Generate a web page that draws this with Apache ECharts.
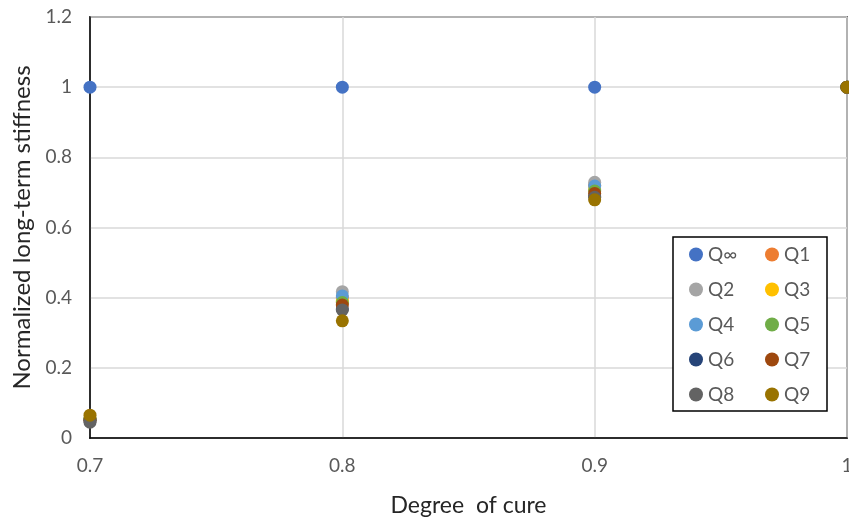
<!DOCTYPE html>
<html>
<head>
<meta charset="utf-8">
<script src="https://cdn.jsdelivr.net/npm/echarts@6/dist/echarts.min.js"></script>
<style>
  html, body { margin: 0; padding: 0; background: #fff; }
  #chart { width: 849px; height: 526px; }
</style>
</head>
<body>
<div id="chart"></div>
<script>
// Degree of cure (x) and normalized long-term stiffness per series
const cure = [0.7, 0.8, 0.9, 1];
const seriesNames = ['Q∞', 'Q1', 'Q2', 'Q3', 'Q4', 'Q5', 'Q6', 'Q7', 'Q8', 'Q9'];
const qInf = [1, 1, 1, 1];
const q1 = [0.055, 0.400, 0.720, 1];
const q2 = [0.055, 0.417, 0.729, 1];
const q3 = [0.055, 0.390, 0.710, 1];
const q4 = [0.055, 0.405, 0.718, 1];
const q5 = [0.055, 0.386, 0.704, 1];
const q6 = [0.050, 0.368, 0.690, 1];
const q7 = [0.050, 0.379, 0.697, 1];
const q8 = [0.045, 0.365, 0.686, 1];
const q9 = [0.065, 0.334, 0.679, 1];
const xTicks = ['0.7', '0.8', '0.9', '1'];
const yTicks = ['0', '0.2', '0.4', '0.6', '0.8', '1', '1.2'];

const values = [qInf, q1, q2, q3, q4, q5, q6, q7, q8, q9];
const colors = ['#4472C4', '#ED7D31', '#A5A5A5', '#FFC000', '#5B9BD5',
                '#70AD47', '#264478', '#9E480E', '#636363', '#997300'];

const font = 'Lato, "Open Sans", sans-serif';
const chart = echarts.init(document.getElementById('chart'));

chart.setOption({
  animation: false,
  color: colors,
  grid: {
    left: 90, right: 2, top: 17, bottom: 88,
    outerBoundsMode: 'none',
    containLabel: false,
    show: true, borderColor: '#000', borderWidth: 1.5
  },
  legend: {
    data: seriesNames,
    left: 673, top: 237,
    width: 140,
    orient: 'horizontal',
    padding: [8, 2, 7, 16],
    itemGap: 16,
    itemWidth: 14, itemHeight: 14,
    icon: 'circle',
    borderColor: '#000', borderWidth: 1.5,
    backgroundColor: '#fff',
    textStyle: { fontFamily: font, fontSize: 19, color: '#595959', width: 41, lineHeight: 18 }
  },
  xAxis: {
    type: 'value',
    min: 0.7, max: 1, interval: 0.1,
    name: 'Degree  of cure',
    nameLocation: 'middle',
    nameGap: 56,
    nameTextStyle: { fontFamily: font, fontSize: 23, color: '#262626' },
    axisLine: { show: true, lineStyle: { color: '#000', width: 1.5 } },
    axisTick: { show: false },
    axisLabel: {
      margin: 18, fontFamily: font, fontSize: 19, color: '#595959',
      formatter: v => xTicks[Math.round((v - 0.7) * 10)] ?? ''
    },
    splitLine: { show: true, lineStyle: { color: '#d9d9d9', width: 1.5 } }
  },
  yAxis: {
    type: 'value',
    min: 0, max: 1.2, interval: 0.2,
    name: 'Normalized long-term stiffness',
    nameLocation: 'middle',
    nameGap: 55,
    nameTextStyle: { fontFamily: font, fontSize: 24, color: '#262626' },
    axisLine: { show: true, lineStyle: { color: '#000', width: 1.5 } },
    axisTick: { show: false },
    axisLabel: {
      margin: 18, fontFamily: font, fontSize: 19, color: '#595959',
      formatter: v => yTicks[Math.round(v * 5)] ?? ''
    },
    splitLine: { show: true, lineStyle: { color: '#d9d9d9', width: 1.5 } }
  },
  series: seriesNames.map((name, i) => ({
    name: name,
    type: 'scatter',
    symbol: 'circle',
    symbolSize: 13,
    clip: false,
    z: 3 + i,
    itemStyle: { opacity: 1 },
    data: cure.map((x, j) => [x, values[i][j]])
  }))
});
</script>
</body>
</html>
